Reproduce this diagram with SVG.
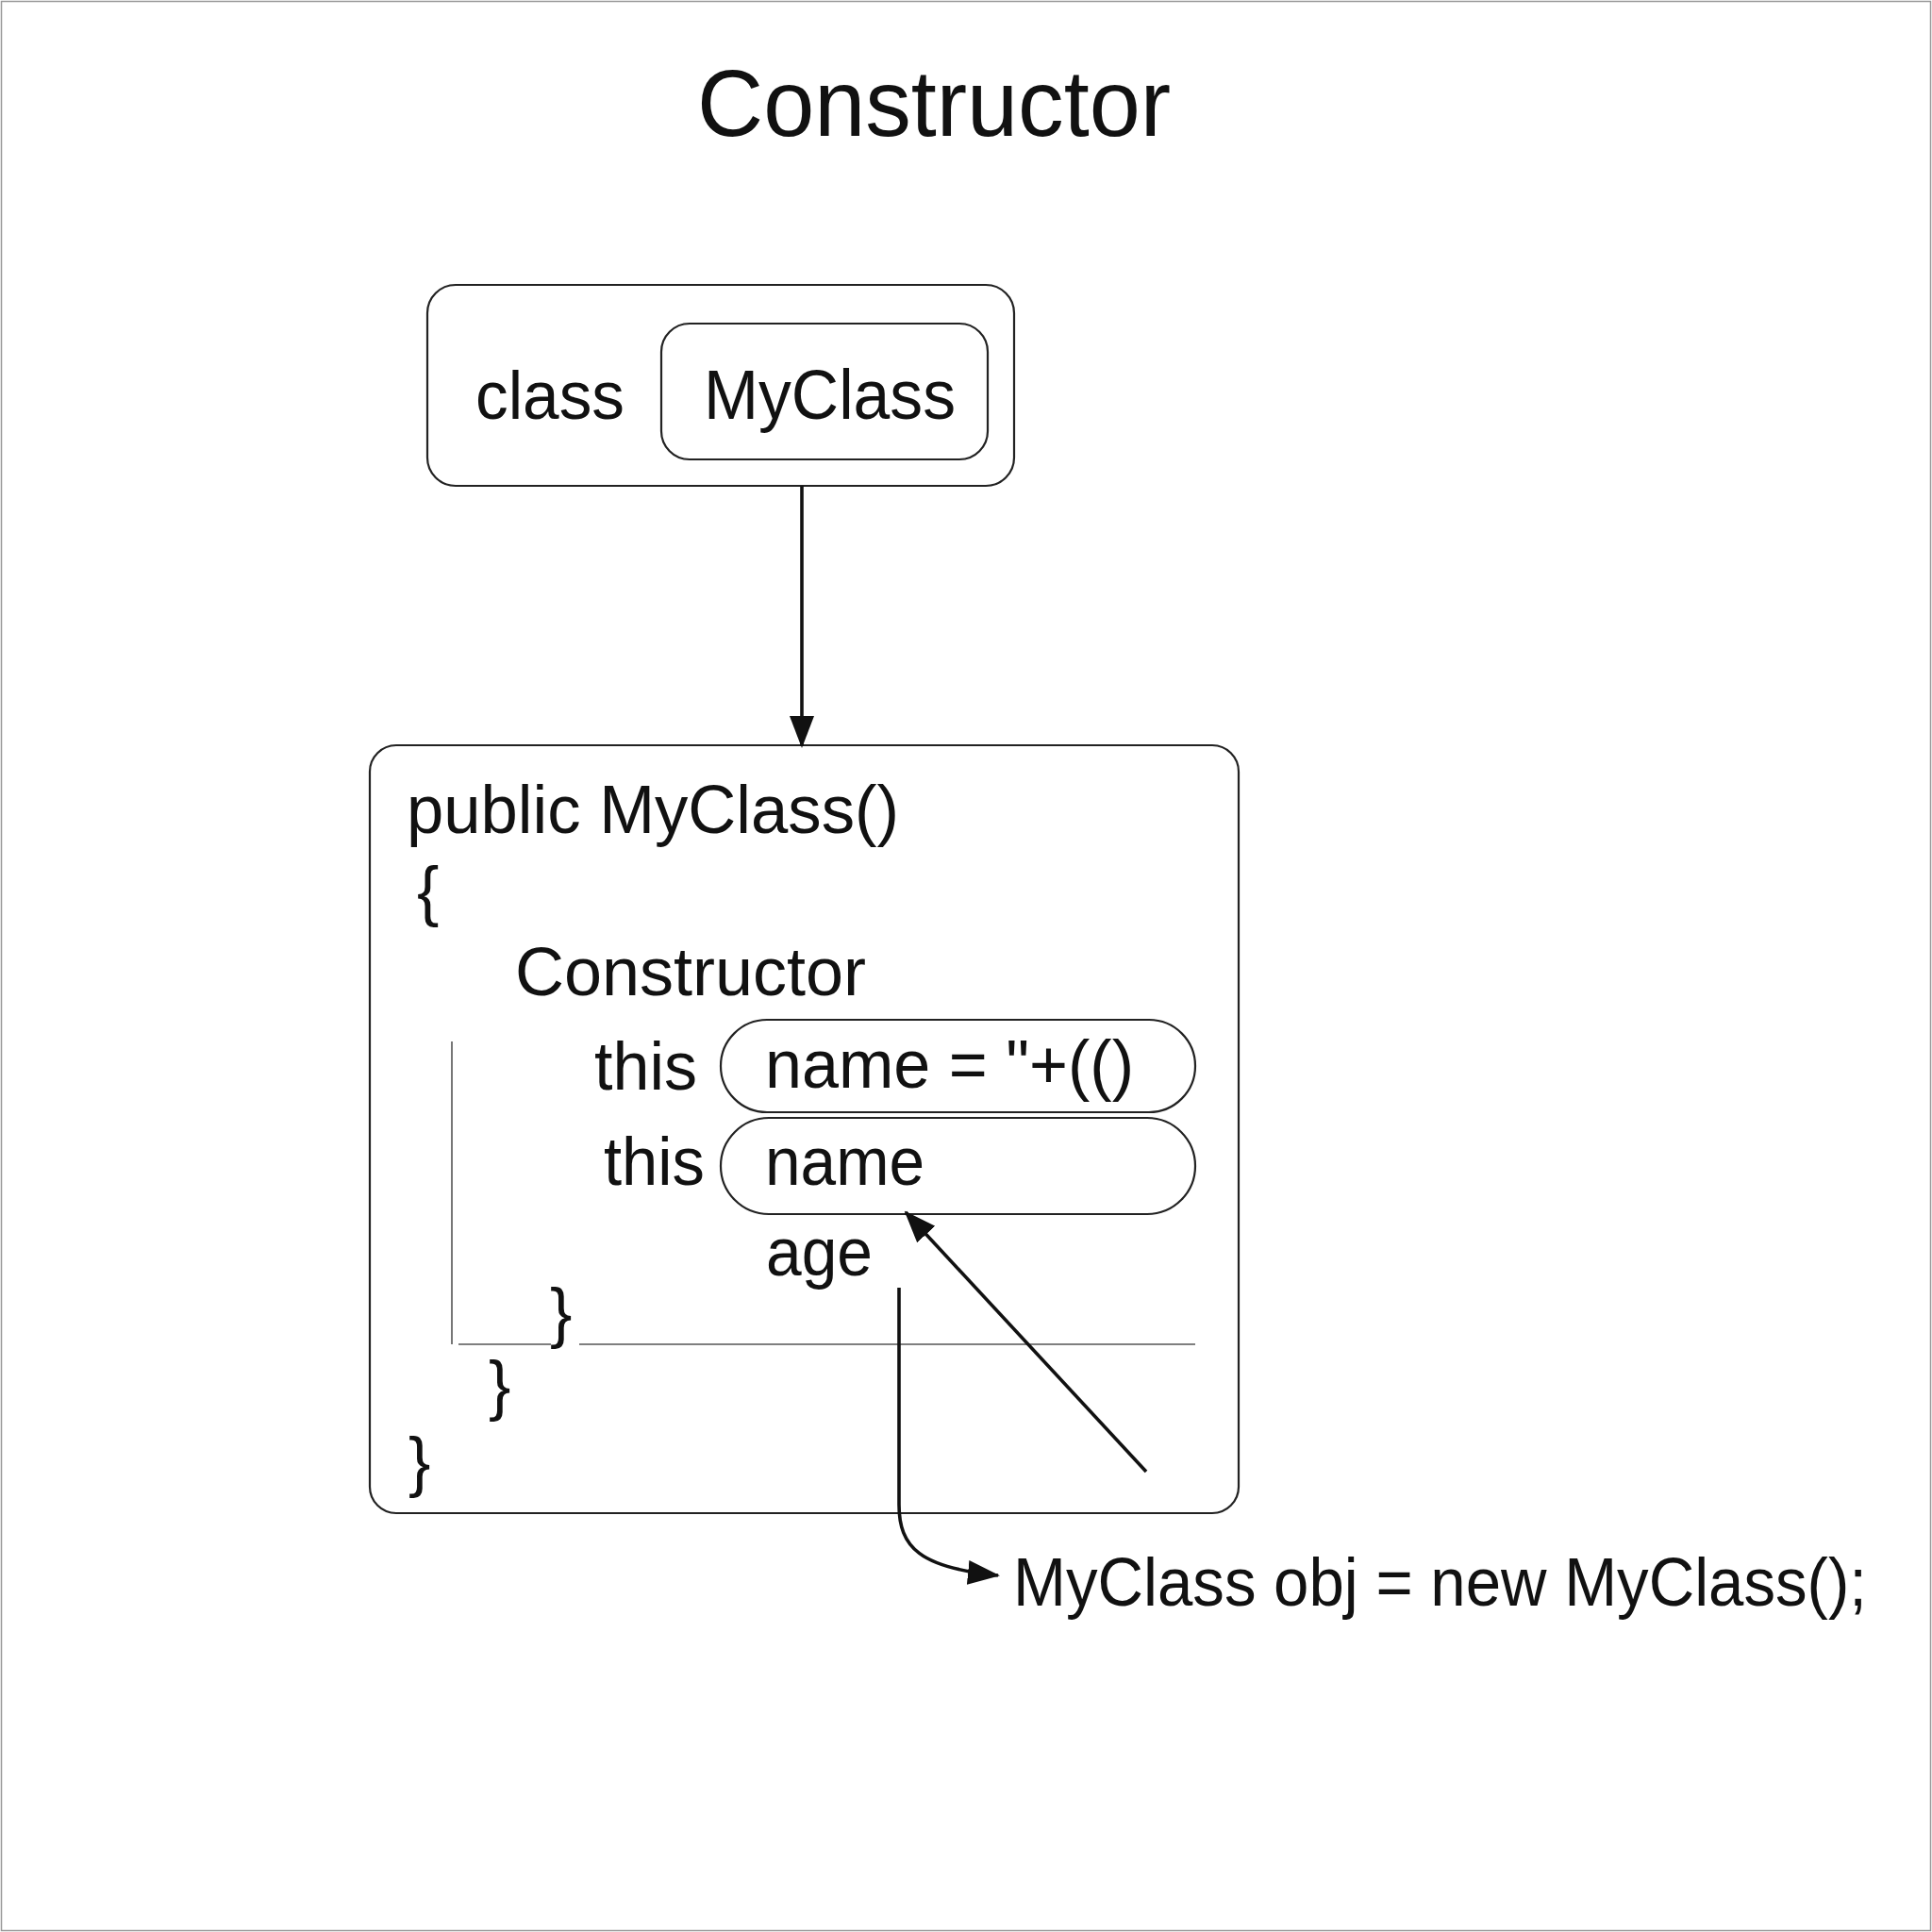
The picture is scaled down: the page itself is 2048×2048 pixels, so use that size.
<svg xmlns="http://www.w3.org/2000/svg" width="2048" height="2048" viewBox="0 0 2048 2048">
<style>
.t{font-family:"Liberation Sans",Arial,sans-serif;fill:#111;}
.box{fill:#fff;stroke:#222;stroke-width:2.2;}
.pill{fill:#fff;stroke:#222;stroke-width:2.2;}
.thin{stroke:#555;stroke-width:1.6;fill:none;}
.conn{stroke:#111;stroke-width:3.6;fill:none;}
</style>
<defs>
<marker id="ah" viewBox="0 0 34 26" refX="32" refY="13" markerWidth="34" markerHeight="26" markerUnits="userSpaceOnUse" orient="auto">
<path d="M0,0 L34,13 L0,26 Z" fill="#111"/>
</marker>
</defs>
<rect x="0" y="0" width="2048" height="2048" fill="#fff"/>
<rect x="1.5" y="1.5" width="2045" height="2045" fill="none" stroke="#999" stroke-width="1.5"/>

<g id="title">
<text class="t" x="739" y="144" font-size="100" textLength="502" lengthAdjust="spacingAndGlyphs">Constructor</text>
</g>

<g id="class-box">
<rect class="box" x="453" y="302" width="622" height="213" rx="30"/>
<text class="t" x="504" y="444" font-size="72" textLength="158" lengthAdjust="spacingAndGlyphs">class</text>
</g>
<g id="myclass-box">
<rect class="box" x="701" y="343" width="346" height="144" rx="30"/>
<text class="t" x="746" y="444" font-size="74" textLength="267" lengthAdjust="spacingAndGlyphs">MyClass</text>
</g>

<g id="constructor-box">
<rect class="box" x="392" y="790" width="921" height="814" rx="28"/>
<text class="t" x="431" y="883" font-size="72" textLength="522" lengthAdjust="spacingAndGlyphs">public MyClass()</text>
<text class="t" x="442" y="968" font-size="70">{</text>
<text class="t" x="546" y="1055" font-size="72" textLength="372" lengthAdjust="spacingAndGlyphs">Constructor</text>
<line class="thin" x1="479" y1="1104" x2="479" y2="1425"/>
<line class="thin" x1="486" y1="1425" x2="584" y2="1425"/>
<line class="thin" x1="614" y1="1425" x2="1267" y2="1425"/>
<text class="t" x="630" y="1155" font-size="72" textLength="109" lengthAdjust="spacingAndGlyphs">this</text>
<text class="t" x="640" y="1256" font-size="72" textLength="107" lengthAdjust="spacingAndGlyphs">this</text>
<text class="t" x="812" y="1352" font-size="72" textLength="113" lengthAdjust="spacingAndGlyphs">age</text>
<text class="t" x="583" y="1415" font-size="70">}</text>
<text class="t" x="518" y="1492" font-size="70">}</text>
<text class="t" x="433" y="1573" font-size="70">}</text>
</g>

<g id="pill-name-assign">
<rect class="pill" x="764" y="1081" width="503" height="98" rx="49"/>
<text class="t" x="811" y="1153" font-size="72" textLength="391" lengthAdjust="spacingAndGlyphs">name = "+(()</text>
</g>
<g id="pill-name">
<rect class="pill" x="764" y="1185" width="503" height="102" rx="51"/>
<text class="t" x="811" y="1256" font-size="72" textLength="169" lengthAdjust="spacingAndGlyphs">name</text>
</g>

<g id="instantiation">
<text class="t" x="1074" y="1702" font-size="72" textLength="905" lengthAdjust="spacingAndGlyphs">MyClass obj = new MyClass();</text>
</g>

<g id="connectors">
<line class="conn" x1="850" y1="515" x2="850" y2="791" marker-end="url(#ah)"/>
<line class="conn" x1="1215" y1="1560" x2="960" y2="1285" marker-end="url(#ah)"/>
<path class="conn" d="M953,1365 L953,1595 C953,1640 975,1662 1058,1670" marker-end="url(#ah)"/>
</g>
</svg>
